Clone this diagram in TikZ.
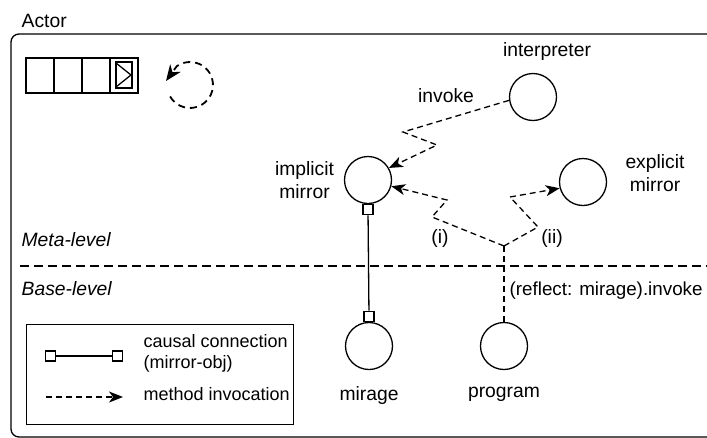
\documentclass[tikz,border=0pt]{standalone}
\usepackage{fontspec}
\setmainfont{Liberation Sans}
\usetikzlibrary{shapes,arrows,positioning,calc,arrows.meta}

\begin{document}
\begin{tikzpicture}[x=1pt, y=-1pt, line width=1.3pt, >={Stealth[length=14pt, width=11pt, inset=4pt]},
    every node/.style={font=\fontsize{19.3}{23}\selectfont, align=center, inner sep=0pt},
    obj/.style={circle, draw, minimum size=47pt},
    port/.style={rectangle, draw, fill=white, minimum size=10pt},
    call/.style={->, dash pattern=on 6pt off 4pt},
    level/.style={font=\fontsize{19.3}{23}\selectfont\itshape},
    legtext/.style={font=\fontsize{18}{21}\selectfont, anchor=west, align=left}]
    \useasboundingbox (0,0) rectangle (707,437);
    \clip (0,0) rectangle (707,437);

    % actor
    \draw [rounded corners=8pt] (720,34) -- (11,34) -- (11,437) -- (720,437);
    \node [anchor=west] (actor) at (21,21) {Actor};

    % mailbox and loop
    \foreach \i in {0,...,3}
        \draw (26+28*\i,58) rectangle ++(28,35);
    \draw (116,62) rectangle (132,88);
    \draw (116,63) -- (131,75) -- (116,87);
    \coordinate (loop) at (190,85);
    \draw [-{Stealth[length=16pt, width=13pt, inset=5pt]}, line width=1.8pt, dash pattern=on 7pt off 5pt] ($(loop)+(150:23)$) arc [start angle=150, end angle=-125, radius=23] -- (166,81);

    % levels
    \coordinate (div-l) at (20,266);
    \coordinate (div-r) at (710,266);
    \draw [dash pattern=on 9pt off 5pt] (div-l) -- (div-r);
    \node [level, anchor=west] (meta) at (21,240) {Meta-level};
    \node [level, anchor=west] (base) at (21,289) {Base-level};

    \node [obj] (interp) at (533,97) {};
    \node (interp-lbl) at (547,52) {interpreter};
    \node [obj] (impl) at (368,180) {};
    \node (impl-lbl) at (304.5,180) {implicit\\mirror};
    \node [obj] (expl) at (583,182) {};
    \node (expl-lbl) at (655,173) {explicit\\mirror};
    \node [obj] (mirage) at (369,346) {};
    \node [below=16pt of mirage] (mirage-lbl) {mirage};
    \node [obj] (prog) at (504,346) {};
    \node [below=16pt of prog] (prog-lbl) {program};

    \node [port, anchor=north] (impl-port) at (impl.south) {};
    \node [port, anchor=south] (mirage-port) at (mirage.north) {};
    \draw (impl-port) -- (mirage-port);

    \coordinate (inv-a) at (403,132);
    \coordinate (inv-b) at (437,145);
    \draw [call] (interp.188) -- (inv-a) -- (inv-b) -- (impl.30);
    \node (invoke-lbl) at (446,96) {invoke};

    \coordinate (fork) at (504,246);
    \draw [dash pattern=on 6pt off 4pt] (prog.north) -- (fork);
    \coordinate (i-a) at (432,217);
    \coordinate (i-b) at (447,200);
    \draw [call] (fork) -- (i-a) -- (i-b) -- (impl.-15);
    \coordinate (ii-a) at (538,227);
    \coordinate (ii-b) at (510,197);
    \draw [call] (fork) -- (ii-a) -- (ii-b) -- (expl.195);
    \node (i-lbl) at (440,238) {(i)};
    \node (ii-lbl) at (552,238) {(ii)};
    \node [anchor=west, font=\fontsize{18.8}{22}\selectfont] (reflect) at (509,291) {(reflect: mirage).invoke};

    % legend
    \node [draw, minimum width=267pt, minimum height=100pt, anchor=north west] (legend) at (26,324) {};
    \node [port] (leg-a) at (50.5,356) {};
    \node [port] (leg-b) at (117.5,356) {};
    \draw (leg-a) -- (leg-b);
    \coordinate (leg-c) at (46,397);
    \coordinate (leg-d) at (123,397);
    \draw [call] (leg-c) -- (leg-d);
    \node [legtext] (leg-causal) at (143,353) {causal connection\\(mirror-obj)};
    \node [legtext] (leg-call) at (143,394) {method invocation};
\end{tikzpicture}
\end{document}
